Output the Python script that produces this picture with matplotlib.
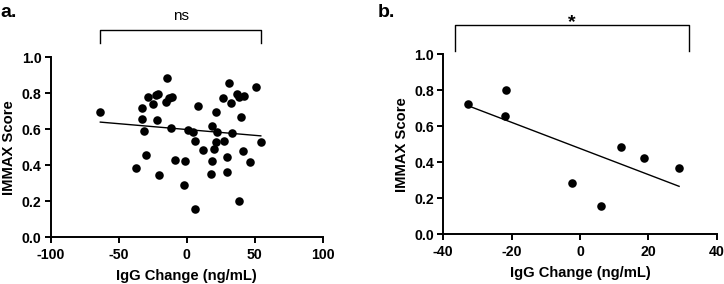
import numpy as np
import matplotlib
matplotlib.use("Agg")
import matplotlib.pyplot as plt
import matplotlib.transforms as mtransforms

plt.rcParams.update({
    "font.family": ["Liberation Sans", "DejaVu Sans"],
    "font.weight": "bold",
    "font.size": 10.2,
    "axes.unicode_minus": False,
    "axes.linewidth": 1.4,
    "xtick.major.width": 1.4, "ytick.major.width": 1.4,
    "xtick.major.size": 4.5, "ytick.major.size": 4.5,
    "xtick.major.pad": 3.5, "ytick.major.pad": 2.0,
})

# panel a: all samples
igg_a = [-63.5, -37.0, -32.7, -32.9, -31.1, -29.6, -28.6, -24.4, -22.8, -21.3,
         -21.8, -20.0, -14.7, -15.5, -12.8, -11.0, -11.5, -8.4, -1.5, -2.3,
         1.1, 4.3, 6.3, 6.3, 8.5, 12.0, 18.0, 18.7, 18.4, 20.2,
         21.2, 21.5, 22.2, 26.7, 27.6, 29.5, 29.3, 31.2, 32.4, 33.0,
         37.1, 38.5, 38.4, 39.8, 41.5, 42.5, 46.4, 50.6, 54.5]
immax_a = [0.696, 0.383, 0.720, 0.655, 0.589, 0.457, 0.778, 0.741, 0.793, 0.798,
           0.653, 0.346, 0.887, 0.752, 0.772, 0.777, 0.609, 0.431, 0.424, 0.288,
           0.597, 0.585, 0.535, 0.157, 0.728, 0.485, 0.352, 0.425, 0.616, 0.491,
           0.527, 0.697, 0.586, 0.772, 0.536, 0.445, 0.365, 0.859, 0.746, 0.578,
           0.795, 0.777, 0.202, 0.668, 0.477, 0.784, 0.418, 0.836, 0.531]

# panel b: subgroup
igg_b = [-32.9, -21.6, -22.0, -2.4, 6.2, 11.9, 18.7, 29.0]
immax_b = [0.726, 0.802, 0.656, 0.287, 0.157, 0.487, 0.426, 0.367]

bracket_a = (-63.5, 54.5)
bracket_b = (-36.6, 31.8)

fig = plt.figure(figsize=(7.24, 2.84), dpi=100)
ax_a = fig.add_axes([0.070, 0.1644, 0.3757, 0.634])
ax_b = fig.add_axes([0.6123, 0.175, 0.3776, 0.634])


def panel(ax, x, y, xlim, xticks, bracket, b_top, b_leg, sig, sig_size, sig_y):
    x = np.asarray(x); y = np.asarray(y)
    ax.scatter(x, y, s=38, color="black", zorder=3, linewidths=0)
    k, c = np.polyfit(x, y, 1)
    xs = np.array([x.min(), x.max()])
    ax.plot(xs, k * xs + c, color="black", lw=1.0, zorder=2)
    ax.set_xlim(*xlim); ax.set_ylim(0, 1.0)
    ax.set_xticks(xticks)
    ax.set_yticks([0.0, 0.2, 0.4, 0.6, 0.8, 1.0])
    ax.yaxis.set_major_formatter(matplotlib.ticker.FormatStrFormatter("%.1f"))
    ax.spines[["top", "right"]].set_visible(False)
    ax.set_xlabel("IgG Change (ng/mL)", fontsize=10.6, fontweight="bold", labelpad=5)
    ax.set_ylabel("IMMAX Score", fontsize=10.6, fontweight="bold", labelpad=4)
    tr = mtransforms.blended_transform_factory(ax.transData, ax.transAxes)
    ax.plot([bracket[0], bracket[0], bracket[1], bracket[1]],
            [b_leg, b_top, b_top, b_leg], color="black", lw=1.0,
            transform=tr, clip_on=False)
    ax.text(sum(bracket) / 2, sig_y, sig, transform=tr, ha="center", va="bottom",
            fontsize=sig_size, fontweight="normal" if sig == "ns" else "bold")


panel(ax_a, igg_a, immax_a, (-100, 100), [-100, -50, 0, 50, 100],
      bracket_a, 1.152, 1.081, "ns", 11, 1.19)
panel(ax_b, igg_b, immax_b, (-40, 40), [-40, -20, 0, 20, 40],
      bracket_b, 1.163, 1.02, "*", 14, 1.13)

fig.text(0.0, 0.955, "a.", fontsize=14, fontweight="bold", va="center")
fig.text(0.521, 0.955, "b.", fontsize=14, fontweight="bold", va="center")

fig.savefig("out.png", dpi=100)
